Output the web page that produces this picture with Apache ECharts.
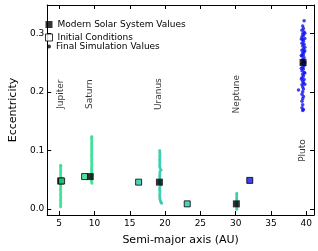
<!DOCTYPE html>
<html>
<head>
<meta charset="utf-8">
<script src="https://cdn.jsdelivr.net/npm/echarts@6/dist/echarts.min.js"></script>
<style>html,body{margin:0;padding:0;background:#fff}#c{width:318px;height:251px}</style>
</head>
<body>
<div id="c"></div>
<script>
// ---- data ----
const planetNames = ['Jupiter', 'Saturn', 'Uranus', 'Neptune', 'Pluto'];
const labelPos = [[5.24, 0.196], [9.29, 0.196], [19.1, 0.196], [30.2, 0.196], [39.55, 0.1]];
const modernValues = [[5.2, 0.048], [9.4, 0.0555], [19.2, 0.046], [30.1, 0.009], [39.55, 0.25]];
const initialValues = [[5.34, 0.048], [8.6, 0.0555], [16.25, 0.046], [23.14, 0.009], [32.0, 0.049]];
const initialColors = ['#22e08a', '#22e08a', '#22c8a6', '#22c8a6', '#1010ee'];
const simColors = ['#22e08a', '#22e08a', '#22c8a6', '#22c8a6', '#1010ee'];
const xTicks = [5, 10, 15, 20, 25, 30, 35, 40];
const yTicks = [0, 0.1, 0.2, 0.3];

const jupiterSim = [[5.20,0.004],[5.19,0.007],[5.21,0.010],[5.20,0.013],[5.18,0.016],[5.22,0.019],[5.20,0.022],[5.19,0.025],[5.21,0.028],[5.20,0.031],[5.18,0.034],[5.22,0.037],[5.20,0.040],[5.19,0.043],[5.21,0.046],[5.20,0.049],[5.18,0.052],[5.22,0.055],[5.20,0.058],[5.19,0.061],[5.21,0.064],[5.20,0.067],[5.19,0.070],[5.21,0.073],[5.20,0.075]];
const saturnSim = [[9.62,0.044],[9.60,0.047],[9.58,0.050],[9.61,0.053],[9.60,0.056],[9.62,0.059],[9.59,0.062],[9.60,0.065],[9.61,0.068],[9.58,0.071],[9.60,0.074],[9.62,0.077],[9.60,0.080],[9.59,0.083],[9.61,0.086],[9.60,0.089],[9.58,0.092],[9.62,0.095],[9.60,0.098],[9.61,0.101],[9.59,0.104],[9.60,0.107],[9.61,0.110],[9.60,0.113],[9.62,0.116],[9.59,0.119],[9.60,0.122],[9.61,0.124]];
const uranusSim = [[19.50,0.010],[19.42,0.012],[19.33,0.014],[19.28,0.017],[19.26,0.020],[19.24,0.023],[19.25,0.026],[19.27,0.029],[19.25,0.032],[19.24,0.035],[19.26,0.038],[19.38,0.041],[19.25,0.044],[19.24,0.047],[19.26,0.050],[19.25,0.053],[19.24,0.056],[19.26,0.059],[19.25,0.062],[19.30,0.065],[19.44,0.067],[19.27,0.070],[19.25,0.073],[19.24,0.076],[19.26,0.079],[19.25,0.082],[19.24,0.085],[19.26,0.088],[19.25,0.091],[19.27,0.094],[19.25,0.097],[19.24,0.100]];
const neptuneSim = [[30.15,0.000],[30.18,0.003],[30.15,0.006],[30.12,0.009],[30.15,0.012],[30.17,0.015],[30.14,0.018],[30.16,0.021],[30.15,0.024],[30.16,0.027]];
const plutoSim = [[39.7,0.321],[39.5,0.312],[39.6,0.308],[39.4,0.305],[39.7,0.302],[39.5,0.299],[39.6,0.296],[39.4,0.294],[39.8,0.291],[39.5,0.289],[39.6,0.286],[39.4,0.283],[39.7,0.281],[39.5,0.278],[39.8,0.276],[39.6,0.273],[39.4,0.271],[39.7,0.268],[39.5,0.266],[39.6,0.263],[39.4,0.261],[39.7,0.258],[39.5,0.255],[39.6,0.252],[39.4,0.248],[39.7,0.245],[39.5,0.242],[39.6,0.239],[39.4,0.236],[39.7,0.233],[39.5,0.230],[39.6,0.227],[39.4,0.224],[39.7,0.221],[39.5,0.218],[39.6,0.215],[39.4,0.212],[39.5,0.208],[39.6,0.205],[38.9,0.203],[39.5,0.200],[39.4,0.196],[39.6,0.192],[39.5,0.188],[39.4,0.184],[39.5,0.178],[39.4,0.173],[39.6,0.170],[39.5,0.168],[39.8,0.300],[39.3,0.290],[39.8,0.270],[39.3,0.262],[39.8,0.250],[39.3,0.240],[39.8,0.232],[39.3,0.222],[39.8,0.213]];
const simSets = [jupiterSim, saturnSim, uranusSim, neptuneSim, plutoSim];

// ---- chart ----
const FONT = 'DejaVu Sans';
const chart = echarts.init(document.getElementById('c'), null, {renderer: 'canvas'});
const tickStyle = {show: true, inside: true, length: 4, lineStyle: {color: '#000', width: 1}};
const axisLine = {show: true, onZero: false, lineStyle: {color: '#000', width: 1}};

const series = [];
simSets.forEach((d, i) => {
  series.push({
    name: 'Final Simulation Values', type: 'scatter', data: d,
    symbol: 'circle', symbolSize: i === 4 ? 3.5 : 3,
    itemStyle: {color: simColors[i]}, z: 2, silent: true
  });
});
series.push({
  name: 'Modern Solar System Values', type: 'scatter', data: modernValues,
  symbol: 'rect', symbolSize: 7, itemStyle: {color: '#000'}, z: 3, silent: true
});
series.push({
  name: 'Initial Conditions', type: 'scatter',
  data: initialValues.map((v, i) => ({value: v, itemStyle: {color: initialColors[i]}})),
  symbol: 'rect', symbolSize: 6, itemStyle: {borderColor: '#000', borderWidth: 1}, z: 4, silent: true
});
series.push({
  name: 'labels', type: 'scatter', symbolSize: 0, silent: true, z: 5,
  data: labelPos.map((p, i) => ({value: p, name: planetNames[i]})),
  label: {show: true, position: 'inside', rotate: 90, formatter: '{b}',
          fontFamily: FONT, fontSize: 9, color: '#000'}
});

const legendText = {fontFamily: FONT, fontSize: 9, color: '#000'};
chart.setOption({
  animation: false,
  backgroundColor: '#fff',
  grid: {left: 35, right: 4, top: 5, bottom: 31, containLabel: false},
  legend: [
    {orient: 'vertical', left: 45, top: 20, itemWidth: 7, itemHeight: 7, itemGap: 4, padding: 0,
     selectedMode: false, textStyle: legendText,
     data: [{name: 'Modern Solar System Values', icon: 'rect', itemStyle: {color: '#000'}},
            {name: 'Initial Conditions', icon: 'rect', itemStyle: {color: '#fff', borderColor: '#000', borderWidth: 1}}]},
    {orient: 'vertical', left: 47, top: 42, itemWidth: 4, itemHeight: 4, padding: 0,
     selectedMode: false, textStyle: legendText,
     data: [{name: 'Final Simulation Values', icon: 'circle', itemStyle: {color: '#000'}}]}
  ],
  xAxis: [
    {type: 'value', min: 3.3, max: 41.1, position: 'bottom',
     name: 'Semi-major axis (AU)', nameLocation: 'middle', nameGap: 20,
     nameTextStyle: {fontFamily: FONT, fontSize: 11, color: '#000'},
     axisLine: axisLine, splitLine: {show: false},
     axisTick: Object.assign({customValues: xTicks}, tickStyle),
     axisLabel: {customValues: xTicks, fontFamily: FONT, fontSize: 9, color: '#000', margin: 4}},
    {type: 'value', min: 3.3, max: 41.1, position: 'top',
     axisLine: axisLine, splitLine: {show: false},
     axisTick: Object.assign({customValues: xTicks}, tickStyle),
     axisLabel: {show: false}}
  ],
  yAxis: [
    {type: 'value', min: -0.01, max: 0.348, position: 'left',
     name: 'Eccentricity', nameLocation: 'middle', nameGap: 21,
     nameTextStyle: {fontFamily: FONT, fontSize: 11, color: '#000'},
     axisLine: axisLine, splitLine: {show: false},
     axisTick: Object.assign({customValues: yTicks}, tickStyle),
     axisLabel: {customValues: yTicks, fontFamily: FONT, fontSize: 9, color: '#000', margin: 3,
                 formatter: v => v.toFixed(1)}},
    {type: 'value', min: -0.01, max: 0.348, position: 'right',
     axisLine: axisLine, splitLine: {show: false},
     axisTick: Object.assign({customValues: yTicks}, tickStyle),
     axisLabel: {show: false}}
  ],
  series: series
});
</script>
</body>
</html>
